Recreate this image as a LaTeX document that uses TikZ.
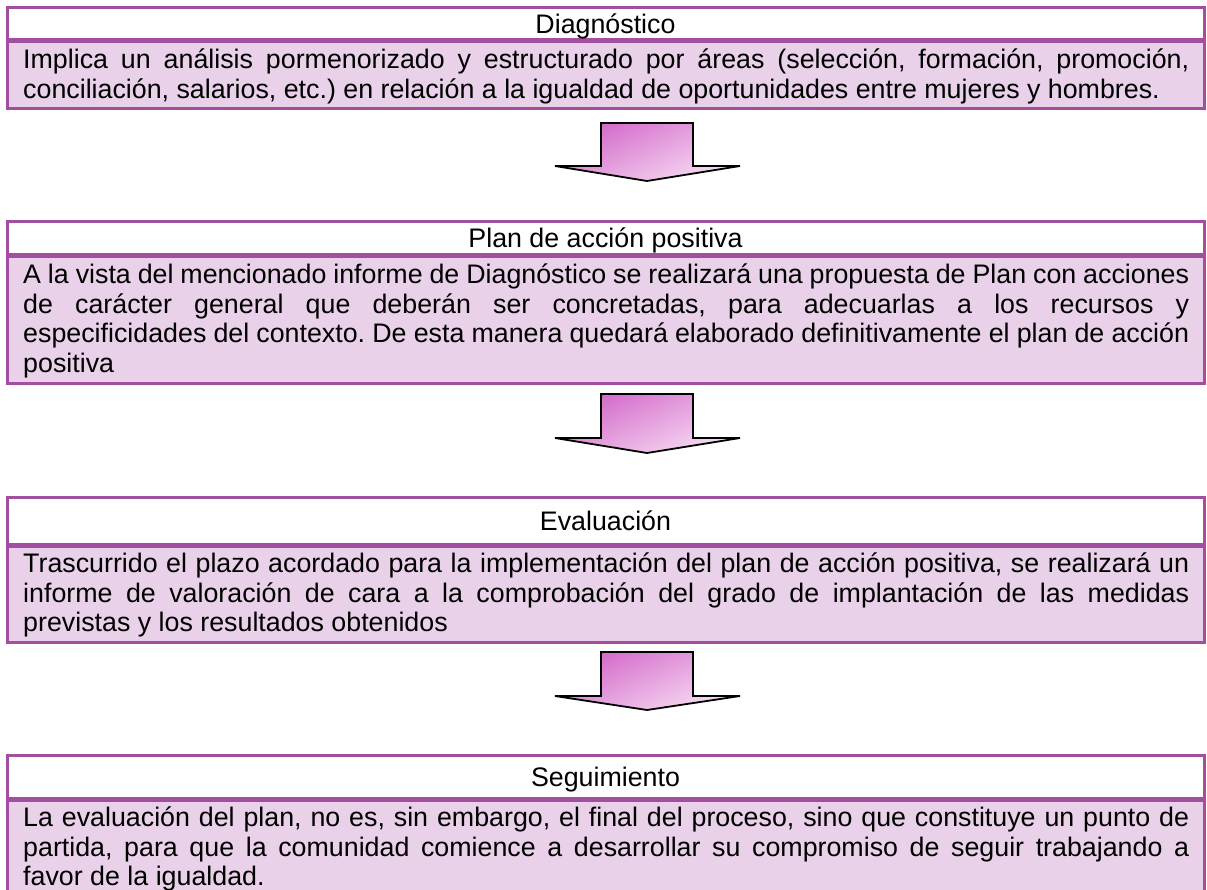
\documentclass[tikz,border=0pt]{standalone}
\usepackage{fontspec}
\setmainfont{Liberation Sans}
\definecolor{bord}{HTML}{A24FA2}
\definecolor{bodyfill}{HTML}{E9D1E9}
\definecolor{arrtop}{HTML}{D266C8}
\definecolor{arrbot}{HTML}{F7DDF4}
\newcommand\mkstage[6]{%
  \fill[bodyfill] (7,#3) rectangle (1204,#4);
  \draw[frame] (7,#2) rectangle (1204,#4);
  \draw[sepline] (7,#3) -- (1204,#3);
  \node[titletext] (#1title) at (605.5,{(#2+#3)/2+9}) {#5};
  \node[bodytext] (#1body) at (23,#3+3.5) {\rule{0pt}{24pt}#6};
}
\newcommand\mkarrow[4]{%
  \path[blockarrow] (601,#2) -- (693,#2) -- (693,#3) -- (740,#3) -- (647,#4)
     -- (555,#3) -- (601,#3) -- cycle;
  \coordinate (#1) at (647,#4);
}
\begin{document}
\frenchspacing
\begin{tikzpicture}[x=1pt,y=-1pt,
  bodytext/.style={anchor=north west, inner sep=0pt, text width=1166pt,
    align=justify, font=\fontsize{26.8}{29.5}\selectfont\frenchspacing},
  titletext/.style={anchor=base, inner sep=0pt, font=\fontsize{26.8}{29.5}\selectfont},
  frame/.style={draw=bord, line width=3pt},
  sepline/.style={draw=bord, line width=5pt},
  blockarrow/.style={draw=black, line width=1.8pt, line join=miter,
    top color=arrtop, bottom color=arrbot, shading angle=25}]
\useasboundingbox (0,0) rectangle (1207,890);
\clip (0,0) rectangle (1207,890);

\mkstage{diag}{8}{41}{109}{Diagnóstico}{Implica un análisis pormenorizado y estructurado por áreas (selección, formación, promoción,\linebreak conciliación, salarios, etc.) en relación a la igualdad de oportunidades entre mujeres y hombres.}

\mkarrow{a1}{123}{166}{181}

\mkstage{plan}{222}{256}{383}{Plan de acción positiva}{A la vista del mencionado informe de Diagnóstico se realizará una propuesta de Plan con acciones\linebreak de carácter general que deberán ser concretadas, para adecuarlas a los recursos y\linebreak especificidades del contexto. De esta manera quedará elaborado definitivamente el plan de acción\linebreak positiva}

\mkarrow{a2}{394}{438}{453}

\mkstage{eval}{497}{545}{642}{Evaluación}{Trascurrido el plazo acordado para la implementación del plan de acción positiva, se realizará un\linebreak informe de valoración de cara a la comprobación del grado de implantación de las medidas\linebreak previstas y los resultados obtenidos}

\mkarrow{a3}{652}{696}{710}

\mkstage{seg}{755}{799}{905}{Seguimiento}{La evaluación del plan, no es, sin embargo, el final del proceso, sino que constituye un punto de\linebreak partida, para que la comunidad comience a desarrollar su compromiso de seguir trabajando a\linebreak favor de la igualdad.}
\end{tikzpicture}
\end{document}
